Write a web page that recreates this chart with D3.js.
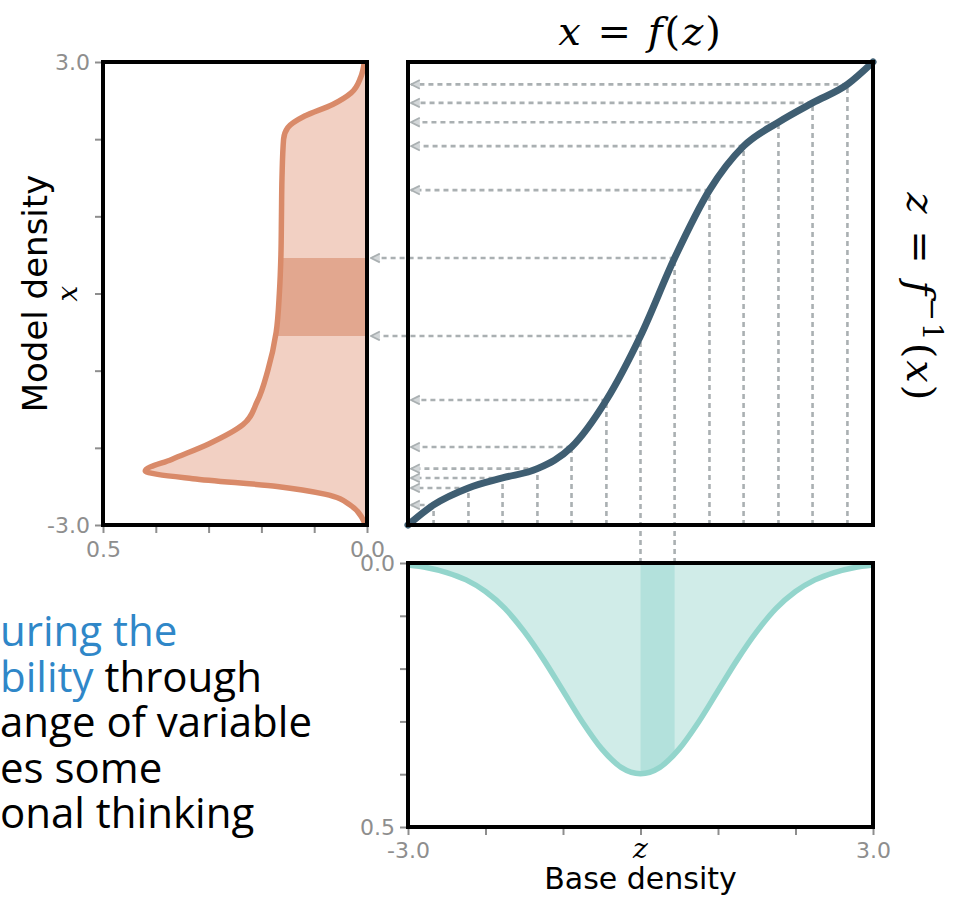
<!DOCTYPE html>
<html>
<head>
<meta charset="utf-8">
<script src="https://cdn.jsdelivr.net/npm/d3@7"></script>
<style>
  body { margin: 0; background: #fff; }
  .tick text { font-family: "DejaVu Sans", sans-serif; fill: #8e8e8e; }
  .tick line { stroke: #8e8e8e; stroke-width: 2; }
</style>
</head>
<body>
<div class="vis-flow"></div>
<script>
// base density p(z)
const baseZ = [-3, -2.75, -2.5, -2.25, -2, -1.75, -1.5, -1.25, -1, -0.75, -0.5, -0.25, 0, 0.25, 0.5, 0.75, 1, 1.25, 1.5, 1.75, 2, 2.25, 2.5, 2.75, 3];
const baseDensity = [0.004, 0.009, 0.018, 0.032, 0.054, 0.086, 0.13, 0.183, 0.242, 0.301, 0.352, 0.387, 0.399, 0.387, 0.352, 0.301, 0.242, 0.183, 0.13, 0.086, 0.054, 0.032, 0.018, 0.009, 0.004];

// flow x = f(z)
const flowZ = [-3, -2.67, -2.22, -1.78, -1.33, -0.89, -0.44, 0, 0.44, 0.89, 1.33, 1.78, 2.22, 2.67, 3];
const flowX = [-3, -2.74, -2.52, -2.39, -2.27, -1.99, -1.38, -0.55, 0.46, 1.34, 1.91, 2.22, 2.47, 2.71, 3];

// model density p(x) (top to bottom)
const modelX = [3.0, 2.8, 2.6, 2.45, 2.3, 2.15, 2.0, 1.5, 1.0, 0.5, 0, -0.5, -1.0, -1.4, -1.7, -1.95, -2.15, -2.3, -2.4, -2.5, -2.6, -2.75, -2.9, -3.0];
const modelDensity = [0.005, 0.012, 0.03, 0.065, 0.118, 0.15, 0.158, 0.161, 0.162, 0.163, 0.166, 0.172, 0.188, 0.208, 0.235, 0.3, 0.37, 0.42, 0.33, 0.17, 0.08, 0.03, 0.01, 0.003];

// highlighted interval (indices into flowZ / flowX)
const bandIdx = [7, 8];

const valueTicks = [-3, -2, -1, 0, 1, 2, 3];
const densityTicks = [0, 0.1, 0.2, 0.3, 0.4, 0.5];

const noteLines = [
  [["uring the", "#2f87c8"]],
  [["bility", "#2f87c8"], [" through", "#000"]],
  [["ange of variable", "#000"]],
  [["es some", "#000"]],
  [["onal thinking", "#000"]],
];

const W = 953, H = 902;
const main = { left: 408, right: 873, top: 62, bottom: 525 };
const side = { left: 103, right: 367 };
const below = { top: 563, bottom: 827 };

const svg = d3.select(".vis-flow").append("svg")
  .attr("width", W).attr("height", H);

const zScale = d3.scaleLinear().domain([-3, 3]).range([main.left, main.right]);
const xScale = d3.scaleLinear().domain([-3, 3]).range([main.bottom, main.top]);
const dLeft = d3.scaleLinear().domain([0.5, 0]).range([side.left, side.right]);
const dBelow = d3.scaleLinear().domain([0, 0.5]).range([below.top, below.bottom]);

const fmt = (d) => d.toFixed(1);
const ends = (arr) => (d) => (d === arr[0] || d === arr[arr.length - 1] ? fmt(d) : "");

const defs = svg.append("defs");
defs.append("marker")
  .attr("id", "arr")
  .attr("viewBox", "0 -5 10 10")
  .attr("refX", 9).attr("refY", 0)
  .attr("markerUnits", "userSpaceOnUse")
  .attr("markerWidth", 11).attr("markerHeight", 11)
  .attr("orient", "auto")
  .append("path")
  .attr("d", "M1,-4L9,0L1,4")
  .attr("fill", "#d3d7d9")
  .attr("stroke", "#aab0b2")
  .attr("stroke-width", 1.6);

const bandZ = bandIdx.map((i) => flowZ[i]);
const bandX = bandIdx.map((i) => flowX[i]);

defs.append("clipPath").attr("id", "clip-left").append("rect")
  .attr("x", side.left).attr("width", side.right - side.left)
  .attr("y", xScale(bandX[1])).attr("height", xScale(bandX[0]) - xScale(bandX[1]));
defs.append("clipPath").attr("id", "clip-below").append("rect")
  .attr("x", zScale(bandZ[0])).attr("width", zScale(bandZ[1]) - zScale(bandZ[0]))
  .attr("y", below.top).attr("height", below.bottom - below.top);

// ---------- left panel: model density ----------
const model = modelX.map((x, i) => ({ x, d: modelDensity[i] }));
const leftArea = d3.area()
  .y((d) => xScale(d.x))
  .x0(dLeft(0))
  .x1((d) => dLeft(d.d))
  .curve(d3.curveMonotoneY);
const leftLine = d3.line()
  .y((d) => xScale(d.x))
  .x((d) => dLeft(d.d))
  .curve(d3.curveMonotoneY);

svg.append("path").datum(model).attr("d", leftArea).attr("fill", "#f2d0c3");
svg.append("path").datum(model).attr("d", leftArea).attr("fill", "#e2a78f")
  .attr("clip-path", "url(#clip-left)");
svg.append("path").datum(model).attr("d", leftLine)
  .attr("fill", "none").attr("stroke", "#d98a69").attr("stroke-width", 5.5);

// ---------- bottom panel: base density ----------
const base = baseZ.map((z, i) => ({ z, d: baseDensity[i] }));
const belowArea = d3.area()
  .x((d) => zScale(d.z))
  .y0(dBelow(0))
  .y1((d) => dBelow(d.d))
  .curve(d3.curveMonotoneX);
const belowLine = d3.line()
  .x((d) => zScale(d.z))
  .y((d) => dBelow(d.d))
  .curve(d3.curveMonotoneX);

svg.append("path").datum(base).attr("d", belowArea).attr("fill", "#d0ece8");
svg.append("path").datum(base).attr("d", belowArea).attr("fill", "#b3e1dc")
  .attr("clip-path", "url(#clip-below)");
svg.append("path").datum(base).attr("d", belowLine)
  .attr("fill", "none").attr("stroke", "#93d5cc").attr("stroke-width", 5.5);

// ---------- middle panel: dashed guides + flow ----------
const guides = flowZ.slice(1, -1).map((z, i) => ({ z, x: flowX[i + 1], band: bandIdx.includes(i + 1) }));
const dash = svg.append("g")
  .attr("stroke", "#aab0b2").attr("stroke-width", 2.6)
  .attr("stroke-dasharray", "5,4").attr("fill", "none");

dash.selectAll(".vguide").data(guides).enter().append("line")
  .attr("class", "vguide")
  .attr("x1", (d) => zScale(d.z)).attr("x2", (d) => zScale(d.z))
  .attr("y1", (d) => (d.band ? below.top : main.bottom))
  .attr("y2", (d) => xScale(d.x));

dash.selectAll(".hguide").data(guides).enter().append("line")
  .attr("class", "hguide")
  .attr("x1", (d) => zScale(d.z))
  .attr("x2", (d) => (d.band ? dLeft(0) + 4 : main.left + 3))
  .attr("y1", (d) => xScale(d.x)).attr("y2", (d) => xScale(d.x))
  .attr("marker-end", "url(#arr)");

const flow = flowZ.map((z, i) => ({ z, x: flowX[i] }));
svg.append("path").datum(flow)
  .attr("d", d3.line().x((d) => zScale(d.z)).y((d) => xScale(d.x)).curve(d3.curveMonotoneX))
  .attr("fill", "none").attr("stroke", "#3f5e72").attr("stroke-width", 7)
  .attr("stroke-linecap", "round");

// ---------- frames ----------
const frames = [
  [side.left, main.top, side.right, main.bottom],
  [main.left, main.top, main.right, main.bottom],
  [main.left, below.top, main.right, below.bottom],
];
svg.selectAll(".frame").data(frames).enter().append("rect")
  .attr("class", "frame")
  .attr("x", (d) => d[0]).attr("y", (d) => d[1])
  .attr("width", (d) => d[2] - d[0]).attr("height", (d) => d[3] - d[1])
  .attr("fill", "none").attr("stroke", "#000").attr("stroke-width", 4);

// ---------- axes ----------
const tickFont = 22;
const axisG = (sel) => { sel.select(".domain").remove(); sel.selectAll("text").style("font-size", tickFont + "px"); };

svg.append("g").attr("transform", `translate(${side.left - 2},0)`)
  .call(d3.axisLeft(xScale).tickValues(valueTicks).tickFormat((d) => (Math.abs(d) === 3 ? fmt(d) : "")).tickSize(6).tickPadding(5))
  .call(axisG);
svg.append("g").attr("transform", `translate(0,${main.bottom + 2})`)
  .call(d3.axisBottom(dLeft).tickValues(densityTicks).tickFormat(ends(densityTicks)).tickSize(6).tickPadding(8))
  .call(axisG);
svg.append("g").attr("transform", `translate(${main.left - 2},0)`)
  .call(d3.axisLeft(dBelow).tickValues(densityTicks).tickFormat(ends(densityTicks)).tickSize(6).tickPadding(5))
  .call(axisG);
svg.append("g").attr("transform", `translate(0,${below.bottom + 2})`)
  .call(d3.axisBottom(zScale).tickValues(valueTicks).tickFormat(ends(valueTicks)).tickSize(6).tickPadding(7))
  .call(axisG);

// ---------- labels ----------
const sans = "'DejaVu Sans', sans-serif";
const serif = "'DejaVu Serif', 'Liberation Serif', serif";
const midRow = (main.top + main.bottom) / 2;

svg.append("text")
  .attr("transform", `translate(47,${midRow}) rotate(-90)`)
  .attr("text-anchor", "middle").attr("font-family", sans).attr("font-size", 34)
  .text("Model density");
svg.append("text")
  .attr("transform", `translate(77,${midRow}) rotate(-90)`)
  .attr("text-anchor", "middle").attr("font-family", serif).attr("font-style", "italic").attr("font-size", 28)
  .text("x");

svg.append("text")
  .attr("x", zScale(0)).attr("y", 858)
  .attr("text-anchor", "middle").attr("font-family", serif).attr("font-style", "italic").attr("font-size", 28)
  .text("z");
svg.append("text")
  .attr("x", zScale(0)).attr("y", 889)
  .attr("text-anchor", "middle").attr("font-family", sans).attr("font-size", 30)
  .text("Base density");

// x = f(z)
const fwdLabel = svg.append("text")
  .attr("x", zScale(0)).attr("y", 45)
  .attr("text-anchor", "middle").attr("font-family", serif).attr("font-size", 40)
  .attr("letter-spacing", 2).style("white-space", "pre");
[["x", true], [" = ", false], ["f", true], ["(", false], ["z", true], [")", false]].forEach(([t, it]) => {
  fwdLabel.append("tspan").attr("font-style", it ? "italic" : "normal").text(t);
});

// z = f^-1(x)
const invLabel = svg.append("text")
  .attr("transform", `translate(907,${midRow + 4}) rotate(90)`)
  .attr("text-anchor", "middle").attr("font-family", serif).attr("font-size", 40)
  .attr("letter-spacing", 2).style("white-space", "pre");
invLabel.append("tspan").attr("font-style", "italic").text("z");
invLabel.append("tspan").text(" = ");
invLabel.append("tspan").attr("font-style", "italic").text("f");
invLabel.append("tspan").attr("dy", -16).attr("font-size", 28).text("\u22121");
invLabel.append("tspan").attr("dy", 16).text("(");
invLabel.append("tspan").attr("font-style", "italic").text("x");
invLabel.append("tspan").text(")");

// clipped slide text, bottom left
const note = svg.append("g").attr("font-family", "'Open Sans', 'Noto Sans', sans-serif").attr("font-size", 42);
noteLines.forEach((parts, i) => {
  const t = note.append("text").attr("x", 0).attr("y", 646 + i * 45.5);
  parts.forEach(([s, c]) => t.append("tspan").attr("fill", c).text(s));
});
</script>
</body>
</html>
